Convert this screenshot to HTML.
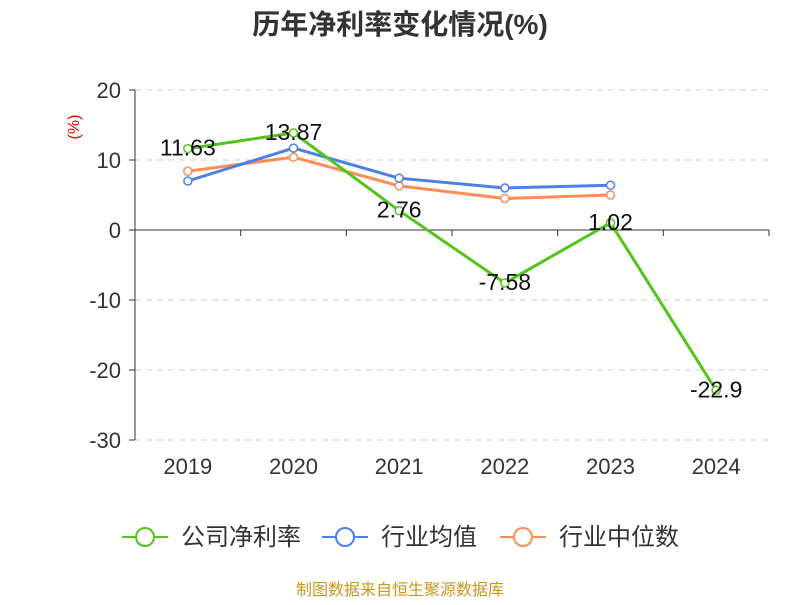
<!DOCTYPE html>
<html><head><meta charset="utf-8"><style>
body{margin:0;background:#fff;}
svg text{font-family:"Liberation Sans","Noto Sans CJK SC",sans-serif;}
</style></head><body>
<svg width="800" height="600" xmlns="http://www.w3.org/2000/svg" id="chart">
<text x="400" y="34" text-anchor="middle" font-size="28" font-weight="bold" fill="#333">历年净利率变化情况(%)</text>
<text x="79" y="127" text-anchor="middle" font-size="16" fill="#e00" transform="rotate(-90 79 127)">(%)</text>
<g id="grid"></g><g id="axes"></g><g id="series"></g>
<g>
<g><line x1="122" y1="537" x2="168" y2="537" stroke="#52c41a" stroke-width="2"/><circle cx="145" cy="537" r="9" fill="#fff" stroke="#52c41a" stroke-width="2"/><text x="181" y="545" font-size="24" fill="#333">公司净利率</text></g>
<g><line x1="322" y1="537" x2="368" y2="537" stroke="#4e7fe6" stroke-width="2"/><circle cx="345" cy="537" r="9" fill="#fff" stroke="#4e7fe6" stroke-width="2"/><text x="381" y="545" font-size="24" fill="#333">行业均值</text></g>
<g><line x1="500" y1="537" x2="546" y2="537" stroke="#ff8c55" stroke-width="2"/><circle cx="523" cy="537" r="9" fill="#fff" stroke="#ff8c55" stroke-width="2"/><text x="559" y="545" font-size="24" fill="#333">行业中位数</text></g>
</g>
<text x="400" y="595" text-anchor="middle" font-size="16" fill="#c8961e">制图数据来自恒生聚源数据库</text>
</svg>
<script>
const categories=["2019","2020","2021","2022","2023","2024"];
const companyValues=[11.63,13.87,2.76,-7.58,1.02,-22.9];
const industryAvg=[7.0,11.7,7.4,6.0,6.4,null];
const industryMedian=[8.4,10.4,6.3,4.5,5.0,null];
const yTicks=[20,10,0,-10,-20,-30];
const NS="http://www.w3.org/2000/svg";
const L=135,R=769,T=90,B=440,yMax=20,yMin=-30;
const bw=(R-L)/categories.length;
const xs=i=>L+bw*(i+0.5);
const ys=v=>T+(yMax-v)/(yMax-yMin)*(B-T);
function mk(tag,attrs,parent){const e=document.createElementNS(NS,tag);for(const k in attrs)e.setAttribute(k,attrs[k]);document.getElementById(parent).appendChild(e);return e;}
yTicks.forEach(t=>{
 if(t!==0){const g=mk('line',{x1:L,x2:R,y1:ys(t),y2:ys(t),stroke:'#ccc','stroke-dasharray':'6,5'},'grid');
 
 }
 const tk=mk('line',{x1:L-6,x2:L,y1:ys(t),y2:ys(t),stroke:'#333'},'axes');
 
 
 const tx=mk('text',{x:L-14,y:ys(t)+8,'text-anchor':'end','font-size':22,fill:'#333'},'axes');tx.textContent=t;
 
 
});
const ya=mk('line',{x1:L,x2:L,y1:T,y2:B,stroke:'#333'},'axes');


const xa=mk('line',{x1:L,x2:R,y1:ys(0),y2:ys(0),stroke:'#333'},'axes');


for(let i=0;i<=categories.length;i++){const t=mk('line',{x1:L+bw*i,x2:L+bw*i,y1:ys(0),y2:ys(0)+6,stroke:'#333'},'axes');
 
 }
categories.forEach((c,i)=>{const t=mk('text',{x:xs(i),y:474,'text-anchor':'middle','font-size':22,fill:'#333'},'axes');t.textContent=c;
 
 });
function series(vals,color,name,labels){
 const pts=vals.map((v,i)=>v==null?null:[xs(i),ys(v)]).filter(p=>p);
 const pl=mk('polyline',{points:pts.map(p=>p.join(',')).join(' '),fill:'none',stroke:color,'stroke-width':3},'series');
 
 
 vals.forEach((v,i)=>{if(v==null)return;
  const c=mk('circle',{cx:xs(i),cy:ys(v),r:4,fill:'#fff',stroke:color,'stroke-width':1.5},'series');
  
  
  if(labels){const t=mk('text',{x:xs(i),y:ys(v)+7,'text-anchor':'middle','font-size':23,fill:'#111'},'series');t.textContent=v;
   
   }
 });
}
series(industryMedian,'#ff8c55','industry-median',false);
series(industryAvg,'#4e7fe6','industry-avg',false);
series(companyValues,'#52c41a','company',true);
</script>
</body></html>
